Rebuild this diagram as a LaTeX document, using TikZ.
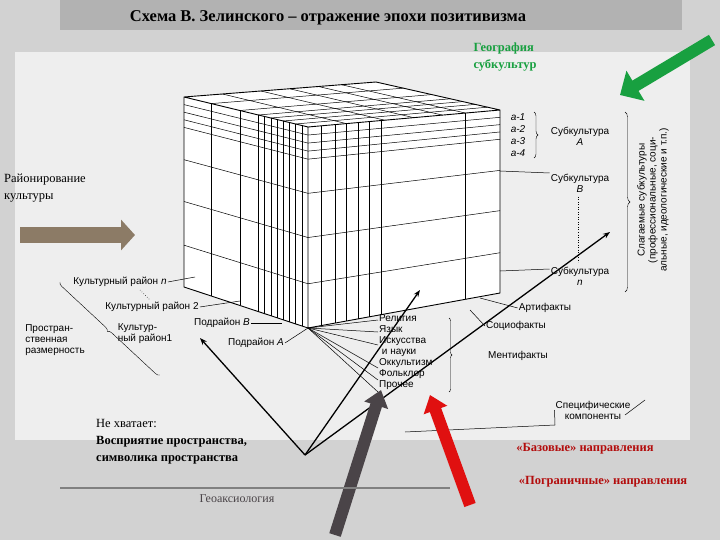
\documentclass[tikz,border=0pt]{standalone}
\usepackage{fontspec}
\setmainfont{Liberation Serif}
\newfontfamily\lab{Liberation Sans}
\usetikzlibrary{arrows.meta,calc,decorations.pathreplacing}
\definecolor{bg}{HTML}{D2D2D2}
\definecolor{scan}{HTML}{EEEEEE}
\definecolor{gr}{HTML}{18A040}
\definecolor{brownar}{HTML}{8C7B66}
\definecolor{darkar}{HTML}{4A4448}
\definecolor{redar}{HTML}{E01010}
\tikzset{
 lb/.style={font=\lab\fontsize{10}{11}\selectfont, inner sep=1pt, align=left},
 ov/.style={font=\fontsize{12.5}{17}\selectfont\bfseries, inner sep=1pt, align=left},
 thin/.style={line width=0.5pt},
 blk/.style={line width=1.3pt,-{Stealth[length=7pt]}}
}
\begin{document}
\begin{tikzpicture}[x=1pt,y=-1pt]
\useasboundingbox (0,0) rectangle (720,540);
\fill[bg] (0,0) rectangle (720,540);
\fill[scan] (15,52) rectangle (690,440);
\fill[gray!60] (60,0) rectangle (682,30);
\node[font=\fontsize{16.5}{18}\selectfont\bfseries] (title) at (328,18) {Схема В. Зелинского – отражение эпохи позитивизма};
% cube
\coordinate (A) at (184,97); \coordinate (B) at (308,127); \coordinate (C) at (500,110);
\coordinate (D) at (376,82); \coordinate (E) at (184,287); \coordinate (F) at (308,328); \coordinate (G) at (500,293);
\fill[white] (A)--(D)--(C)--(G)--(F)--(E)--cycle;
\draw[line width=0.9pt] (A)--(D)--(C)--(G)--(F)--(E)--cycle (A)--(B)--(C) (B)--(F);
\foreach \t in {0.04,0.08,0.12,0.16,0.33,0.55,0.78}{
 \draw[thin] ($(A)!\t!(E)$)--($(B)!\t!(F)$)--($(C)!\t!(G)$);}
\foreach \t in {0.22,0.45,0.6,0.65,0.7,0.75,0.8,0.85,0.9,0.95}{
 \draw[thin] ($(A)!\t!(B)$)--($(E)!\t!(F)$);}
\foreach \t in {0.07,0.14,0.2,0.26,0.32,0.38,0.82}{
 \draw[thin] ($(B)!\t!(C)$)--($(F)!\t!(G)$);}
\foreach \t in {0.22,0.45,0.6,0.7,0.8,0.9}{
 \draw[thin] ($(A)!\t!(B)$)--($(D)!\t!(C)$);}
\foreach \t in {0.2,0.4,0.55,0.7,0.82}{
 \draw[thin] ($(A)!\t!(D)$)--($(B)!\t!(C)$);}
% right labels
\node[lb] (a1) at (518,117) {\itshape a-1};
\node[lb] (a2) at (518,129) {\itshape a-2};
\node[lb] (a3) at (518,141) {\itshape a-3};
\node[lb] (a4) at (518,153) {\itshape a-4};
\draw[decorate,decoration={brace,amplitude=4pt}] (534,112)--(534,158);
\node[lb,align=center] (sA) at (580,136) {Субкультура\\\itshape A};
\node[lb,align=center] (sB) at (580,183) {Субкультура\\\itshape B};
\node[lb,align=center] (sn) at (580,276) {Субкультура\\\itshape n};
\draw[thin] (500,171)--(sB.west|-0,173);
\draw[thin] (500,271)--(sn.west|-0,269);
\draw[thin,dotted] (578,197)--(578,262);
\draw[decorate,decoration={brace,amplitude=5pt}] (625,112)--(625,292);
\node[lb,rotate=90,align=center] (sl) at (653,200) {Слагаемые субкультуры\\(профессиональные, соци-\\альные, идеологические и т.п.)};
\node[lb] (art) at (545,308) {Артифакты};
\node[lb] (soc) at (516,326) {Социофакты};
\node[lb] (men) at (518,356) {Ментифакты};
\node[lb,align=center] (spec) at (593,410) {Специфические\\компоненты};
\draw[thin] (480,298)--(art.west);
\draw[thin] (470,310)--(soc.west);
\draw[decorate,decoration={brace,amplitude=3pt}] (449,318)--(449,392);
\draw[thin] (405,432)--(555,425) (625,415)--(645,400);
\draw[thin] (555,425)--(spec.west);
% bottom labels
\node[lb,anchor=north west,align=left] (rel) at (378,313) {Религия\\Язык\\Искусства\\\ и науки\\Оккультизм\\Фольклор\\Прочее};
\foreach \y in {320,332,345,368,380,392}{\draw[thin] (F)--(378,\y);}
% left labels
\node[lb] (kn) at (120,282) {Культурный район \itshape n};
\node[lb] (k2) at (152,307) {Культурный район 2};
\node[lb] (pr) at (55,340) {Простран-\\ственная\\размерность};
\node[lb] (k1) at (145,334) {Культур-\\ный район1};
\node[lb] (pB) at (222,323) {Подрайон \itshape B};
\node[lb] (pA) at (256,343) {Подрайон \itshape A};
\draw[thin] (kn.east)--(195,277);
\draw[thin] (k2.east)--(240,301);
\draw[thin] (pB.east)--(282,323);
\draw[thin] (pA.east)--(F);
\draw[thin,dotted] (140,290)--(150,300);
\draw[decorate,decoration={brace,amplitude=4pt,mirror}] (60,282)--(160,375);
% overlays
\node[ov,text=gr] (geo) at (505,57) {География\\субкультур};
\node[ov,font=\fontsize{12.5}{17}\selectfont] (raj) at (45,188) {Районирование\\культуры};
\draw[line width=16pt,brownar,-{Triangle[length=14pt,width=30pt]}] (20,235)--(135,235);
\draw[line width=12pt,gr,-{Triangle[length=18pt,width=34pt]}] (712,40)--(620,95);
\coordinate (hub) at (305,455);
\draw[blk] (hub)--(200,338);
\draw[blk] (hub)--(420,290);
\draw[blk] (hub)--(610,232);
\draw[line width=12pt,darkar,-{Triangle[length=16pt,width=24pt]}] (335,535)--(381,390);
\draw[line width=12pt,redar,-{Triangle[length=16pt,width=24pt]}] (470,505)--(430,395);
\node[ov,anchor=north west] (nx) at (95,418) {\mdseries Не хватает:\\Восприятие пространства,\\символика пространства};
\draw[gray,line width=1.2pt] (60,488)--(450,488);
\node[font=\fontsize{12}{14}\selectfont,text=darkar] (gax) at (237,499) {Геоаксиология};
\node[ov,text=redar!80!black] (baz) at (585,449) {«Базовые» направления};
\node[ov,text=redar!80!black] (pog) at (603,482) {«Пограничные» направления};
\end{tikzpicture}
\end{document}
